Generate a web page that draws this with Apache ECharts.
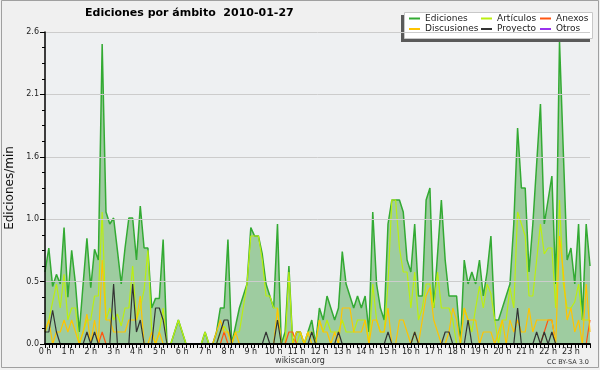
<!DOCTYPE html>
<html><head><meta charset="utf-8">
<script src="https://cdn.jsdelivr.net/npm/echarts@6/dist/echarts.min.js"></script>
<style>html,body{margin:0;padding:0;background:#f0f0f0}#c{width:600px;height:370px}</style>
</head><body><div id="c"></div>
<script>
// 10-minute slots of 2010-01-27
const slots = [];
for (let h = 0; h < 24; h++) for (let m = 0; m < 60; m += 10) slots.push(h + ':' + String(m).padStart(2, '0'));

const ediciones = [
  0.6,0.8,0.48,0.58,0.5,0.97,
  0.39,0.78,0.5,0.1,0.5,0.88,
  0.47,0.79,0.7,2.5,1.1,1.0,
  1.05,0.78,0.5,0.8,1.05,1.05,
  0.7,1.15,0.8,0.8,0.3,0.38,
  0.38,0.87,0,0,0.1,0.2,
  0.1,0,0,0,0,0,
  0.1,0,0,0.1,0.3,0.3,
  0.87,0,0.15,0.3,0.4,0.5,
  0.97,0.9,0.9,0.75,0.5,0.4,
  0.3,1.0,0,0.1,0.65,0,
  0.1,0.1,0,0.1,0.2,0,
  0.3,0.2,0.4,0.3,0.2,0.3,
  0.77,0.5,0.4,0.3,0.4,0.3,
  0.4,0.1,1.1,0.5,0.3,0.2,
  1.0,1.2,1.2,1.2,1.1,0.7,
  0.6,1.0,0.4,0.4,1.2,1.3,
  0.3,0.75,1.2,0.7,0.4,0.4,
  0.4,0,0.7,0.5,0.6,0.5,
  0.7,0.4,0.6,0.9,0.2,0.2,
  0.3,0.4,0.5,1.0,1.8,1.3,
  1.3,0.6,1.0,1.5,2.0,1.0,
  1.2,1.4,0.5,2.52,1.6,0.7,
  0.8,0.5,1.0,0.2,1.0,0.65
];
const articulos = [
  0.1,0.2,0.35,0.5,0.3,0.58,
  0.2,0.3,0.3,0,0.1,0.2,
  0.2,0.4,0.4,1.1,0.2,0.3,
  0.2,0.25,0.15,0.3,0.3,0.65,
  0.2,0.3,0.45,0.78,0.1,0,
  0.1,0.3,0,0,0.1,0.2,
  0.1,0,0,0,0,0,
  0.1,0,0,0,0.1,0.15,
  0.1,0,0.1,0.1,0.3,0.5,
  0.9,0.9,0.9,0.7,0.4,0.4,
  0.3,0.3,0,0,0.6,0,
  0,0.1,0,0.1,0.1,0,
  0.2,0.1,0.2,0.1,0.1,0.1,
  0.2,0.1,0.1,0.1,0.2,0.2,
  0.2,0,0.5,0.2,0.1,0.1,
  0.5,1.2,1.2,0.8,0.6,0.6,
  0.3,0.6,0.2,0.3,0.5,0.5,
  0.3,0.6,0.3,0.3,0.3,0.2,
  0,0,0.3,0.2,0.1,0.3,
  0.48,0.3,0.5,0.42,0.2,0,
  0.2,0.2,0.47,0.3,1.1,1.0,
  0.9,0.4,0.4,0.7,1.0,0.75,
  0.8,0.8,0.3,1.2,0.5,0.3,
  0.3,0.35,0.5,0.2,0.2,0.2
];
const anexos = [
  0,0,0,0,0,0, 0,0,0,0,0,0, 0,0,0,0.1,0,0, 0,0,0,0,0,0,
  0,0,0,0,0,0, 0,0,0,0,0,0, 0,0,0,0,0,0, 0,0,0,0,0,0.1,
  0,0,0,0,0,0, 0,0,0,0,0,0, 0,0,0,0,0.1,0.1, 0,0,0,0,0,0,
  0,0,0,0,0,0, 0,0,0,0,0,0, 0,0,0,0,0,0, 0,0,0,0,0,0,
  0,0,0,0,0,0, 0,0,0,0,0,0, 0,0,0,0,0,0, 0,0,0,0,0,0,
  0,0,0,0,0,0, 0,0,0,0,0,0.1, 0.2,0.2,0,0,0,0, 0,0,0,0,0,0.2
];
const discusiones = [
  0.1,0.2,0,0.1,0.1,0.2,
  0.1,0.2,0.1,0,0.1,0.25,
  0,0.2,0,0.7,0.2,0.2,
  0.1,0.1,0.1,0.1,0.2,0.2,
  0.2,0.4,0,0,0.1,0,
  0.1,0,0,0,0,0,
  0,0,0,0,0,0,
  0,0,0,0.1,0.2,0.1,
  0.1,0,0.1,0,0,0,
  0,0,0,0,0,0,
  0,0.3,0,0,0,0,
  0.1,0.1,0,0.1,0,0,
  0.2,0.1,0.1,0,0.1,0,
  0.3,0.3,0.3,0.1,0.1,0.1,
  0.2,0,0.2,0.2,0.1,0.1,
  0.3,0,0,0.2,0.2,0.1,
  0,0.1,0,0.2,0.4,0.47,
  0.2,0.1,0,0,0.1,0.3,
  0.2,0,0.3,0.2,0.2,0.2,
  0,0.1,0.1,0.1,0,0.1,
  0.2,0,0.2,0.1,0.2,0.1,
  0.1,0.3,0.1,0.2,0.2,0.2,
  0.2,0.2,0,0.9,0.6,0.2,
  0.3,0.1,0.2,0,0.5,0.1
];
const proyecto = [
  0.1,0.1,0.28,0.1,0,0,
  0,0,0,0,0,0.1,
  0,0.1,0,0,0,0,
  0.5,0,0,0,0,0.5,
  0.1,0.2,0,0,0,0.3,
  0.3,0.2,0,0,0,0,
  0,0,0,0,0,0,
  0,0,0,0,0.1,0.2,
  0.2,0,0,0,0,0,
  0,0,0,0,0.1,0,
  0,0.2,0,0,0,0,
  0,0,0,0,0.1,0,
  0,0,0,0,0,0.1,
  0,0,0,0,0,0,
  0,0,0,0,0,0,
  0.1,0,0,0,0,0,
  0,0.1,0,0,0,0,
  0,0,0,0.1,0.1,0,
  0,0,0,0.2,0,0,
  0,0,0,0,0,0,
  0,0,0,0,0.3,0,
  0,0,0,0.1,0,0.1,
  0,0.1,0,0,0,0,
  0,0,0,0,0,0
];
const otros = [
  0,0,0,0,0,0, 0,0,0,0,0,0, 0,0,0,0,0,0, 0,0,0,0,0,0,
  0,0,0,0,0,0, 0,0,0,0,0,0, 0,0,0,0,0,0, 0,0,0,0,0,0,
  0,0,0,0,0,0, 0,0,0,0,0,0, 0,0,0,0,0,0, 0,0,0,0,0,0,
  0,0,0,0,0,0, 0,0,0,0,0,0, 0,0,0,0,0,0, 0,0,0,0,0,0,
  0,0,0,0,0,0, 0,0,0,0,0,0, 0,0,0,0,0,0, 0,0,0,0,0,0,
  0,0,0,0,0,0, 0,0,0,0,0,0, 0,0,0,0,0,0, 0,0,0,0,0,0
];
const seriesNames = ['Ediciones','Artículos','Anexos','Discusiones','Proyecto','Otros'];
const seriesColors = ['#33aa33','#bbee11','#ff5511','#ffc400','#333333','#9933ee'];
const seriesData = [ediciones, articulos, anexos, discusiones, proyecto, otros];

const FONT = 'DejaVu Sans';
const chart = echarts.init(document.getElementById('c'), null, {renderer: 'canvas'});
const legendBase = {
  orient: 'vertical', top: 14, padding: 0, itemGap: 1.5, itemWidth: 11, itemHeight: 8,
  itemStyle: {opacity: 0, borderWidth: 0},
  textStyle: {fontFamily: FONT, fontSize: 9, color: '#222'}, z: 6, selectedMode: false
};
chart.setOption({
  animation: false,
  backgroundColor: '#f0f0f0',
  title: {
    text: 'Ediciones por ámbito  2010-01-27', left: 85, top: 8, padding: 0,
    textStyle: {fontFamily: FONT, fontSize: 11, fontWeight: 'bold', color: '#000'}
  },
  graphic: [
    {type: 'rect', z: 0, shape: {x: 1.5, y: 0.5, width: 597, height: 367}, style: {fill: 'none', stroke: '#a0a0a0', lineWidth: 1}},
    {type: 'rect', z: 5, shape: {x: 401, y: 15, width: 189, height: 27}, style: {fill: '#5a5a5a'}},
    {type: 'rect', z: 5, shape: {x: 404.5, y: 12.5, width: 188, height: 26}, style: {fill: '#ffffff', stroke: '#c8c8c8', lineWidth: 1}},
    {type: 'text', z: 5, left: 'center', top: 357, style: {text: 'wikiscan.org', font: '8px "DejaVu Sans"', fill: '#333'}},
    {type: 'text', z: 5, right: 11, top: 359, style: {text: 'CC BY-SA 3.0', font: '6.5px "DejaVu Sans"', fill: '#333'}}
  ],
  legend: [
    Object.assign({}, legendBase, {left: 408, data: [seriesNames[0], seriesNames[3]]}),
    Object.assign({}, legendBase, {left: 480, data: [seriesNames[1], seriesNames[4]]}),
    Object.assign({}, legendBase, {left: 539, data: [seriesNames[2], seriesNames[5]]})
  ],
  grid: {left: 45, top: 32, right: 10, bottom: 26, show: true, backgroundColor: '#eef0f2', borderWidth: 0,
    containLabel: false, outerBoundsMode: 'none'},
  xAxis: {
    type: 'category', data: slots, boundaryGap: false, z: 10,
    axisLine: {lineStyle: {color: '#000', width: 2}},
    axisTick: {show: true, interval: 0, length: 4, lineStyle: {color: '#000', width: 1}},
    axisLabel: {interval: 5, margin: 4, fontFamily: FONT, fontSize: 8, color: '#222',
      formatter: v => parseInt(v, 10) + ' h'},
    splitLine: {show: false}
  },
  yAxis: {
    type: 'value', min: 0, max: 2.6, interval: 0.52, z: 10,
    name: 'Ediciones/min', nameLocation: 'middle', nameGap: 28,
    nameTextStyle: {fontFamily: FONT, fontSize: 12, color: '#111'},
    axisLine: {show: true, lineStyle: {color: '#000', width: 1.5}},
    axisTick: {show: true, length: 5, lineStyle: {color: '#000'}},
    minorTick: {show: true, splitNumber: 4, length: 3, lineStyle: {color: '#000'}},
    axisLabel: {margin: 6, fontFamily: FONT, fontSize: 8, color: '#222', formatter: v => v.toFixed(1)},
    splitLine: {show: true, lineStyle: {color: '#cccccc', width: 1}}
  },
  series: seriesData.map((d, k) => ({
    name: seriesNames[k], type: 'line', data: d, symbol: 'none', color: seriesColors[k],
    lineStyle: {width: k === 0 ? 1.5 : 1.2, color: seriesColors[k]},
    areaStyle: k === 0 ? {color: 'rgba(60,160,60,0.45)', opacity: 1} : undefined,
    z: 2 + k
  }))
});
</script></body></html>
